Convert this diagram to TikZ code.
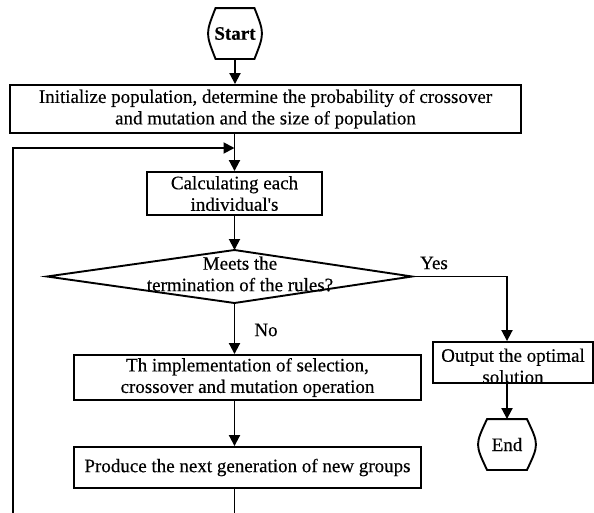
\documentclass[tikz,border=0pt]{standalone}
\usepackage{fontspec}
\setmainfont{Liberation Serif}[Ligatures=TeXOff, FakeBold=0.35]
\usetikzlibrary{arrows.meta}
\begin{document}
\begin{tikzpicture}[x=1pt,y=-1pt,
  line width=1.9pt,
  arr/.style={-{Triangle[length=11pt,width=11pt]}},
  txt/.style={inner sep=0pt, align=center, font=\fontsize{19}{21.5}\selectfont},
  box/.style={txt, draw},
]
\useasboundingbox (0,0) rectangle (594,512);
\clip (0,0) rectangle (594,512);

% terminals
\node[txt, font=\bfseries\fontsize{19}{21.5}\selectfont, minimum width=47pt, minimum height=49pt] (start) at (235,33.5) {Start};
\draw ([xshift=5pt]start.north west) -- ([xshift=-5pt]start.north east)
  .. controls ([xshift=5pt]start.east) .. ([xshift=-5pt]start.south east)
  -- ([xshift=5pt]start.south west)
  .. controls ([xshift=-5pt]start.west) .. cycle;

\node[txt, minimum width=50pt, minimum height=49pt] (end) at (507,444.5) {End};
\draw ([xshift=6pt]end.north west) -- ([xshift=-6pt]end.north east)
  .. controls ([xshift=6pt]end.east) .. ([xshift=-6pt]end.south east)
  -- ([xshift=6pt]end.south west)
  .. controls ([xshift=-6pt]end.west) .. cycle;

% boxes
\node[box, minimum width=511pt, minimum height=48pt] (init) at (265.5,109)
  {Initialize population, determine the probability of crossover\\and mutation and the size of population};
\node[box, minimum width=175pt, minimum height=43pt] (calc) at (234.5,193.5)
  {Calculating each\\individual's};
\node[box, minimum width=347pt, minimum height=45pt] (th) at (247.5,377.5)
  {Th implementation of selection,\\crossover and mutation operation};
\node[box, minimum width=347pt, minimum height=41pt] (prod) at (247.5,467.5)
  {Produce the next generation of new groups};
\node[box, minimum width=160pt, minimum height=41pt] (out) at (513,362.5) {};
\node[txt] (outtext) at (513,366) {Output the optimal\\solution};

% decision
\coordinate (dt) at (234.5,250);
\coordinate (dr) at (412,276.5);
\coordinate (db) at (234.5,303);
\coordinate (dl) at (47,276.5);
\draw (dt) -- (dr) -- (db) -- (dl) -- cycle;
\node[txt] (dtext) at (240,274) {Meets the\\termination of the rules?};

% labels
\node[txt] (yes) at (434,263) {Yes};
\node[txt] (no) at (266,330) {No};

% loop points
\coordinate (lb) at (13,540);
\coordinate (merge) at (234.5,148);

% connectors
\draw[arr] (start.south) -- (start.south |- init.north);
\draw[arr] (init.south -| calc.north) -- (calc.north);
\draw[arr] (calc.south) -- (dt);
\draw[arr] (db) -- (th.north -| db);
\draw[arr] (th.south -| db) -- (prod.north -| db);
\draw[arr] (dr) -| (end.north |- out.north);
\draw[arr] (out.south -| end.north) -- (end.north);
\draw[arr] (prod.south -| db) |- (lb) |- (merge);
\end{tikzpicture}
\end{document}
